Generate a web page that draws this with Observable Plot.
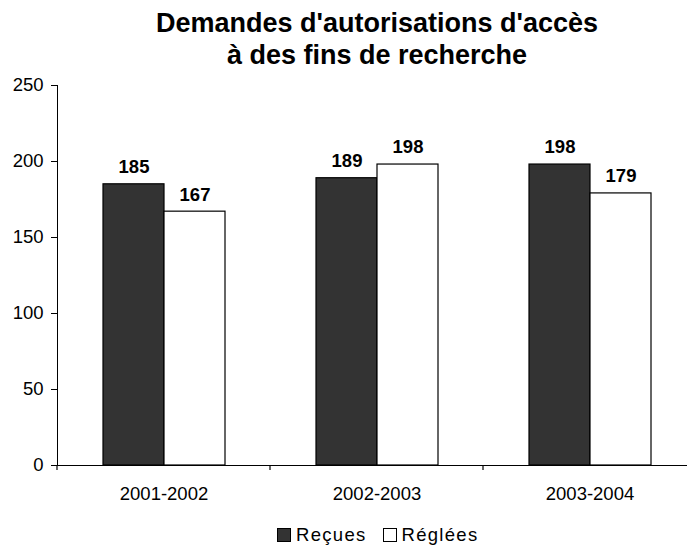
<!DOCTYPE html>
<html>
<head>
<meta charset="utf-8">
<script src="https://cdn.jsdelivr.net/npm/d3@7"></script>
<script src="https://cdn.jsdelivr.net/npm/@observablehq/plot@0.6"></script>
<style>
  html, body { margin: 0; padding: 0; background: #fff; overflow: hidden; width: 687px; height: 546px; }
  body { font-family: "Liberation Sans", Arial, sans-serif; color: #000; }
  #title { text-align: center; font-weight: bold; font-size: 27px; line-height: 32px; padding-top: 7px; height: 64px; padding-left: 67px; }
  #legend { position: absolute; top: 525px; left: 277px; display: flex; align-items: center; font-size: 18.5px; line-height: 20px; letter-spacing: 1.3px; }
  .sw { display: inline-block; width: 12px; height: 12px; border: 1px solid #000; box-sizing: content-box; margin-right: 5px; }
</style>
</head>
<body>
<div id="title">Demandes d'autorisations d'accès<br>à des fins de recherche</div>
<div id="chart"></div>
<div id="legend"></div>
<script>
const groups = ["2001-2002", "2002-2003", "2003-2004"];
const series = ["Reçues", "Réglées"];
const recues = [185, 189, 198];
const reglees = [167, 198, 179];
const yTicks = [0, 50, 100, 150, 200, 250];
const colors = ["#333333", "#ffffff"];

const data = [];
groups.forEach((g, i) => {
  data.push({group: g, series: series[0], value: recues[i]});
  data.push({group: g, series: series[1], value: reglees[i]});
});

const plot = Plot.plot({
  width: 687,
  height: 439,
  marginTop: 14,
  marginLeft: 56,
  marginRight: -10,
  marginBottom: 45,
  style: {fontFamily: '"Liberation Sans", Arial, sans-serif', fontSize: "18.5px", color: "#000", background: "transparent"},
  fx: {domain: groups, padding: 0, axis: "bottom", tickSize: 0, tickPadding: 21, label: null},
  x: {domain: series, paddingInner: 0, paddingOuter: 0.72, axis: null},
  y: {domain: [0, 250], ticks: yTicks, tickSize: 6, tickPadding: 8, line: true, label: null},
  color: {domain: series, range: colors},
  marks: [
    Plot.barY(data, {fx: "group", x: "series", y: "value", fill: "series", stroke: "#000", strokeWidth: 1.2}),
    Plot.text(data, {fx: "group", x: "series", y: "value", text: d => String(d.value), dy: -17, fontWeight: "bold", fontSize: 18.5, fill: "#000"}),
    Plot.ruleY([0], {stroke: "#000", strokeWidth: 1.2})
  ]
});
document.getElementById("chart").appendChild(plot);

// boundary ticks on the category axis, from the library's fx and y scales
const fx = plot.scale("fx");
const ys = plot.scale("y");
const y0 = ys.apply(0);
const bounds = groups.map(g => fx.apply(g));
bounds.push(fx.apply(groups[groups.length - 1]) + fx.bandwidth);
const svg = d3.select(plot.tagName.toLowerCase() === "svg" ? plot : plot.querySelector("svg"));
svg.append("g").selectAll("line").data(bounds).join("line")
  .attr("x1", d => d).attr("x2", d => d)
  .attr("y1", y0).attr("y2", y0 + 5)
  .attr("stroke", "#000").attr("stroke-width", 1.2);

// legend
const legend = document.getElementById("legend");
series.forEach((s, i) => {
  const sw = document.createElement("span");
  sw.className = "sw";
  sw.style.background = colors[i];
  if (i > 0) sw.style.marginLeft = "16px";
  legend.appendChild(sw);
  const t = document.createElement("span");
  t.textContent = s;
  legend.appendChild(t);
});
</script>
</body>
</html>
